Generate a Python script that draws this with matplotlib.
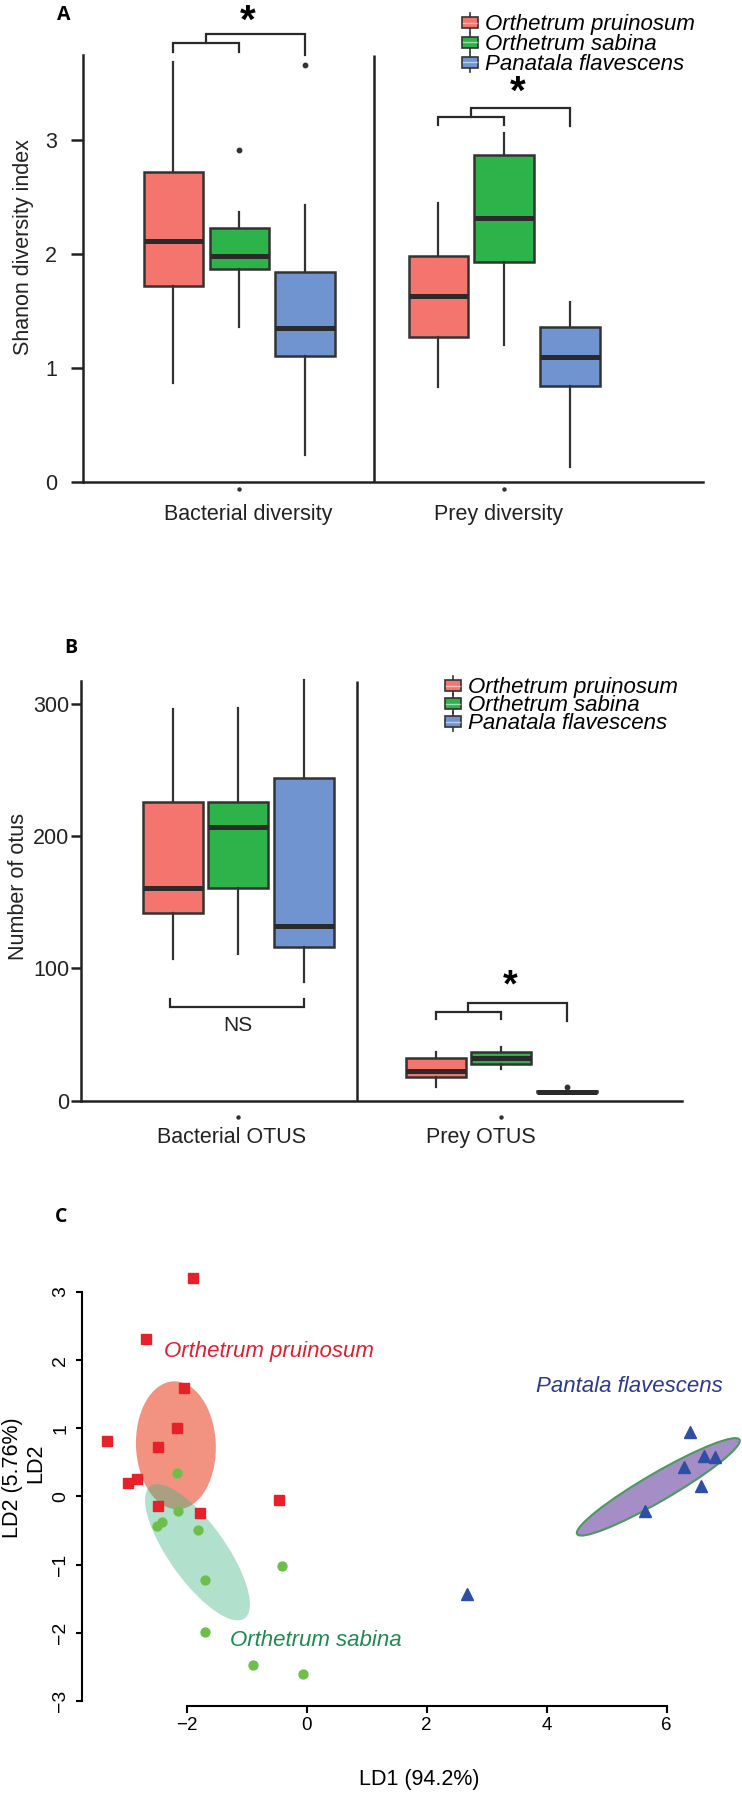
import numpy as np
import matplotlib
matplotlib.use("Agg")
import matplotlib.pyplot as plt
from matplotlib.patches import Rectangle, Ellipse, Patch
from matplotlib.lines import Line2D
from matplotlib.legend_handler import HandlerBase

plt.rcParams["font.family"] = ["Liberation Sans", "DejaVu Sans"]

W, H = 742, 1795
DPI = 100

SPECIES = ["Orthetrum pruinosum", "Orthetrum sabina", "Panatala flavescens"]
BOX_COLORS = ["#F3756D", "#2EB34B", "#6F94D0"]
EDGE = "#333333"

# panel A - Shannon index, per species: (whislo, q1, med, q3, whishi)
DIV_GROUPS = ["Bacterial diversity", "Prey diversity"]
DIV_BACT = [[0.87, 1.72, 2.11, 2.72, 3.68],
            [1.36, 1.87, 1.98, 2.23, 2.37],
            [0.24, 1.105, 1.35, 1.845, 2.43]]
DIV_BACT_FLIERS = [[], [2.91], [3.66]]
DIV_PREY = [[0.83, 1.27, 1.63, 1.98, 2.45],
            [1.20, 1.93, 2.32, 2.87, 3.06],
            [0.13, 0.845, 1.10, 1.36, 1.58]]
DIV_PREY_FLIERS = [[], [], []]

# panel B - number of OTUs
OTU_GROUPS = ["Bacterial OTUS", "Prey OTUS"]
OTU_BACT = [[107, 142, 161, 225.6, 296],
            [111, 161, 206.7, 225.6, 297],
            [90, 116, 132, 244, 318]]
OTU_BACT_FLIERS = [[], [], []]
OTU_PREY = [[10, 18, 22.7, 32, 36.5],
            [24, 27.7, 32, 36.8, 40.3],
            [5.8, 6.3, 6.8, 7.3, 7.8]]
OTU_PREY_FLIERS = [[], [], [10.1]]

# panel C - LDA scores
OP_LD1 = [-1.89, -2.68, -2.04, -2.17, -3.33, -2.48, -2.98, -2.83, -2.48, -1.78, -0.46]
OP_LD2 = [3.21, 2.31, 1.59, 1.00, 0.82, 0.72, 0.20, 0.25, -0.14, -0.24, -0.06]
OS_LD1 = [-2.17, -2.15, -2.41, -2.49, -1.82, -0.42, -1.70, -1.69, -0.90, -0.06]
OS_LD2 = [0.35, -0.21, -0.37, -0.44, -0.50, -1.02, -1.22, -1.99, -2.48, -2.61]
PF_LD1 = [6.39, 6.62, 6.80, 6.29, 6.57, 5.64, 2.67]
PF_LD2 = [0.94, 0.60, 0.58, 0.43, 0.16, -0.21, -1.43]


def px_rect(left, top, right, bottom):
    # figure-fraction rect from pixel edges (origin top-left)
    return [left / W, 1 - bottom / H, (right - left) / W, (bottom - top) / H]


def stats(vals, fliers):
    (lo, q1, med, q3, hi) = vals
    return dict(whislo=lo, q1=q1, med=med, q3=q3, whishi=hi, fliers=fliers)


def draw_boxes(ax, groups, offsets, width):
    for (gi, (summary, fliers)) in enumerate(groups):
        for si in range(len(SPECIES)):
            ax.bxp([stats(summary[si], fliers[si])], positions=[gi + offsets[si]],
                   widths=width, patch_artist=True, showcaps=False, manage_ticks=False,
                   boxprops=dict(facecolor=BOX_COLORS[si], edgecolor=EDGE, linewidth=1.8),
                   medianprops=dict(color="#2a2a2a", linewidth=3.6, solid_capstyle="butt"),
                   whiskerprops=dict(color=EDGE, linewidth=1.6),
                   flierprops=dict(marker="o", markersize=3.2, markerfacecolor=EDGE,
                                   markeredgecolor=EDGE))


def bracket(ax, xa, xb, xc, low, leg, high, leg2):
    # lower bracket between xa/xb, upper one from its middle to xc
    mid = (xa + xb) / 2
    kw = dict(color="#2a2a2a", linewidth=1.6, solid_joinstyle="miter", clip_on=False)
    ax.plot([xa, xa, xb, xb], [leg, low, low, leg], **kw)
    ax.plot([mid, mid, xc, xc], [low, high, high, leg2], **kw)


class BoxIcon(HandlerBase):
    def create_artists(self, legend, orig_handle, xdescent, ydescent,
                       width, height, fontsize, trans):
        x0 = -xdescent
        y0 = -ydescent
        cx = x0 + width / 2
        whisk = Line2D([cx, cx], [y0 - 0.25 * height, y0 + 1.2 * height],
                       color=EDGE, linewidth=1.2, transform=trans)
        box = Rectangle((x0, y0 + 0.05 * height), width, 0.85 * height,
                        facecolor=orig_handle.get_facecolor(), edgecolor=EDGE,
                        linewidth=1.2, transform=trans)
        med = Line2D([x0 + 1, x0 + width - 1], [y0 + 0.47 * height] * 2,
                     color="white", alpha=0.55, linewidth=1.0, transform=trans)
        return [whisk, box, med]


def species_legend(fig, left, top, spacing):
    handles = [Patch(facecolor=c) for c in BOX_COLORS]
    fig.legend(handles, SPECIES, handler_map={Patch: BoxIcon()}, loc="upper left",
               bbox_to_anchor=(left / W, 1 - top / H), bbox_transform=fig.transFigure,
               frameon=False, borderpad=0, borderaxespad=0, handlelength=0.72,
               handleheight=0.55, handletextpad=0.3, labelspacing=spacing,
               prop=dict(style="italic", size=16))


def style_box_axes(ax, top, ticks, tick_len, tick_pad):
    for side in ("top", "right"):
        ax.spines[side].set_visible(False)
    ax.spines["left"].set_bounds(0, top)
    for side in ("left", "bottom"):
        ax.spines[side].set_linewidth(1.8)
        ax.spines[side].set_color("#222222")
    ax.set_yticks(ticks)
    ax.tick_params(axis="y", direction="out", length=tick_len, width=1.8,
                   color="#222222", pad=tick_pad, labelsize=15.5, labelcolor="#222222")
    ax.set_xticks([])


def group_labels(ax, labels, shifts, dot_y, label_y):
    xs = np.arange(len(labels))
    ax.plot(xs, [dot_y] * len(xs), linestyle="none", marker="o", markersize=2.2,
            color="#333333", clip_on=False)
    for (x, lab, dx) in zip(xs, labels, shifts):
        ax.text(x + dx, label_y, lab, ha="center", va="center", fontsize=15.5,
                color="#222222", clip_on=False)


fig = plt.figure(figsize=(W / DPI, H / DPI), dpi=DPI)
fig.patch.set_facecolor("white")

# ---------------- panel A ----------------
axa = fig.add_axes(px_rect(83, 3.2, 703, 482))
axa.set_xlim(-0.589, 1.751)
axa.set_ylim(0, 4.2)
offsets_a = [-0.248, 0.0, 0.249]
draw_boxes(axa, [(DIV_BACT, DIV_BACT_FLIERS), (DIV_PREY, DIV_PREY_FLIERS)], offsets_a, 0.223)
style_box_axes(axa, 3.75, [0, 1, 2, 3], 8.6, 10)
axa.vlines(0.509, 0, 3.75, color="#222222", linewidth=1.8)
group_labels(axa, DIV_GROUPS, [0.034, -0.021], -0.061, -0.281)
bracket(axa, -0.248, 0.0, 0.249, 3.85, 3.77, 3.93, 3.75)
axa.text(0.034, 4.04, "*", ha="center", va="center", fontsize=29, fontweight="bold")
bracket(axa, 0.752, 1.0, 1.249, 3.20, 3.13, 3.28, 3.12)
axa.text(1.05, 3.41, "*", ha="center", va="center", fontsize=29, fontweight="bold")
species_legend(fig, 462, 14, -0.05)

# ---------------- panel B ----------------
axb = fig.add_axes(px_rect(81, 660.3, 682, 1100.7))
axb.set_xlim(-0.597, 1.688)
axb.set_ylim(0, 333)
offsets_b = [-0.249, 0.0, 0.251]
draw_boxes(axb, [(OTU_BACT, OTU_BACT_FLIERS), (OTU_PREY, OTU_PREY_FLIERS)], offsets_b, 0.228)
style_box_axes(axb, 317.6, [0, 100, 200, 300], 7.2, 1)
axb.vlines(0.451, 0, 317.6, color="#222222", linewidth=1.8)
group_labels(axb, OTU_GROUPS, [-0.025, -0.076], -12.1, -27.6)
axb.plot([-0.259, -0.259, 0.251, 0.251], [76.8, 71, 71, 76.8], color="#2a2a2a",
         linewidth=1.6, solid_joinstyle="miter")
axb.text(0.0, 56.6, "NS", ha="center", va="center", fontsize=15, color="#222222")
bracket(axb, 0.751, 1.0, 1.251, 66.7, 61.4, 73.5, 60.2)
axb.text(1.034, 86.0, "*", ha="center", va="center", fontsize=27, fontweight="bold")
species_legend(fig, 445, 677, -0.13)

fig.text(24 / W, 1 - 246.7 / H, "Shanon diversity index", rotation=90, ha="center",
         va="center", fontsize=15.5, color="#222222")
fig.text(19 / W, 1 - 886.7 / H, "Number of otus", rotation=90, ha="center",
         va="center", fontsize=15.5, color="#222222")

# ---------------- panel C ----------------
axc = fig.add_axes(px_rect(82.3, 1264.8, 741.7, 1706))
axc.set_xlim(-3.74, 7.25)
axc.set_ylim(-3.077, 3.4)

axc.add_patch(Ellipse((-2.18, 0.75), 1.88, 1.33, angle=93, facecolor="#EE6A50",
                      alpha=0.72, edgecolor="none", zorder=1))
axc.add_patch(Ellipse((-1.82, -0.82), 2.5, 0.9, angle=-50, facecolor="#3CB482",
                      alpha=0.4, edgecolor="none", zorder=2))
axc.add_patch(Ellipse((5.86, 0.14), 3.04, 0.42, angle=27, facecolor="#A58DC6",
                      edgecolor="#4C9A5E", linewidth=1.5, zorder=2))

axc.plot(OP_LD1, OP_LD2, linestyle="none", marker="s", markersize=6.6,
         color="#E8202A", zorder=4)
axc.plot(OS_LD1, OS_LD2, linestyle="none", marker="o", markersize=6.4,
         color="#6CC04A", zorder=4)
axc.plot(PF_LD1, PF_LD2, linestyle="none", marker="^", markersize=8,
         color="#2E4FA3", zorder=4)

axc.text(-2.38, 2.13, "Orthetrum pruinosum", color="#E0202E", style="italic",
         fontsize=16, ha="left", va="center")
axc.text(-1.28, -2.11, "Orthetrum sabina", color="#1E8B4C", style="italic",
         fontsize=16, ha="left", va="center")
axc.text(3.82, 1.61, "Pantala flavescens", color="#2B3990", style="italic",
         fontsize=16, ha="left", va="center")

for side in ("top", "right"):
    axc.spines[side].set_visible(False)
axc.spines["left"].set_bounds(-3, 3)
axc.spines["bottom"].set_bounds(-2, 6)
for side in ("left", "bottom"):
    axc.spines[side].set_linewidth(1.5)
    axc.spines[side].set_color("black")
axc.set_xticks([-2, 0, 2, 4, 6])
axc.set_yticks([-3, -2, -1, 0, 1, 2, 3])
axc.tick_params(axis="x", direction="out", length=5, width=1.5, pad=3, labelsize=13.5)
axc.tick_params(axis="y", direction="out", length=4.3, width=1.5, pad=5, labelsize=14)
for lbl in axc.get_yticklabels():
    lbl.set_rotation(90)
    lbl.set_va("center")

fig.text(419 / W, 1 - 1779 / H, "LD1 (94.2%)", ha="center", va="center", fontsize=15.5)
fig.text(13 / W, 1 - 1477.5 / H, "LD2 (5.76%)", rotation=90, ha="center", va="center",
         fontsize=15.5)
fig.text(36 / W, 1 - 1463 / H, "LD2", rotation=90, ha="center", va="center", fontsize=15.5)

for (lab, x, y) in (("A", 64, 15), ("B", 71, 648), ("C", 61, 1217)):
    fig.text(x / W, 1 - y / H, lab, ha="center", va="center", fontsize=14,
             fontweight="bold", family=["Open Sans", "DejaVu Sans"])

fig.savefig("out.png", dpi=DPI, facecolor="white")
